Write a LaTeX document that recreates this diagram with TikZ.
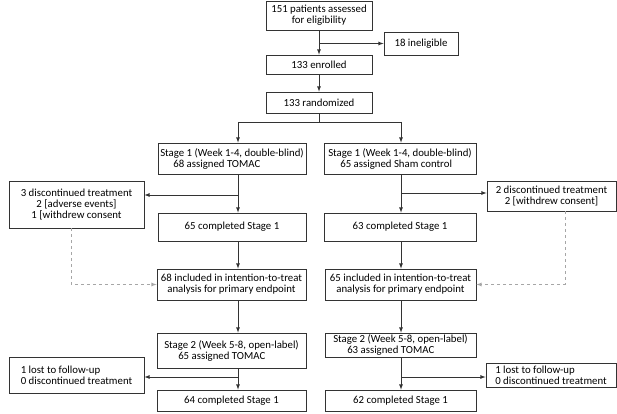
\documentclass[tikz,border=0pt]{standalone}
\usepackage{fontspec}
\setmainfont{Carlito}
\usetikzlibrary{arrows}

\begin{document}
\begin{tikzpicture}[x=1pt, y=-1pt, >=latex,
		box/.style={draw=black!80, line width=0.8pt, align=center, inner sep=1pt, font=\fontsize{10.8}{11}\selectfont},
		flow/.style={->, draw=black!80, line width=0.8pt},
		link/.style={draw=black!80, line width=0.8pt},
		skip/.style={->, draw=black!35, dashed, line width=0.8pt}]
		\useasboundingbox (0,0) rectangle (617,414);
		\node[box, minimum width=106, minimum height=29] (assess) at (319,15.5) {151 patients assessed\\for eligibility};
		\node[box, minimum width=74, minimum height=23] (inel) at (421,43.5) {18 ineligible};
		\node[box, minimum width=106, minimum height=19] (enrol) at (319,64.5) {133 enrolled};
		\node[box, minimum width=106, minimum height=21] (rand) at (319,102.5) {133 randomized};
		\node[box, align=left, minimum width=148, minimum height=31] (s1L) at (232,158.5) {Stage 1 (Week 1-4, double-blind)\\\hspace*{13pt}68 assigned TOMAC};
		\node[box, align=left, minimum width=152, minimum height=31] (s1R) at (400,158.5) {Stage 1 (Week 1-4, double-blind)\\\hspace*{12pt}65 assigned Sham control};
		\node[box, minimum width=135, minimum height=47] (discL) at (76.5,204.5) {3 discontinued treatment\\2 [adverse events]\\1 [withdrew consent};
		\node[box, minimum width=129, minimum height=30] (discR) at (551.5,196) {2 discontinued treatment\\2 [withdrew consent]};
		\node[box, minimum width=148, minimum height=28] (compL) at (232,227) {65 completed Stage 1};
		\node[box, minimum width=152, minimum height=28] (compR) at (400,227) {63 completed Stage 1};
		\node[box, minimum width=149, minimum height=31] (ittL) at (231.5,284.5) {68 included in intention-to-treat\\analysis for primary endpoint};
		\node[box, minimum width=151, minimum height=31] (ittR) at (400.5,284.5) {65 included in intention-to-treat\\analysis for primary endpoint};
		\node[box, align=left, minimum width=149, minimum height=35] (s2L) at (231.5,350.5) {Stage 2 (Week 5-8, open-label)\\\hspace*{14pt}65 assigned TOMAC};
		\node[box, align=left, minimum width=151, minimum height=24] (s2R) at (400.5,345) {Stage 2 (Week 5-8, open-label)\\\hspace*{14pt}63 assigned TOMAC};
		\node[box, align=left, minimum width=135, minimum height=36] (lostL) at (76.5,375) {1 lost to follow-up\\0 discontinued treatment};
		\node[box, align=left, minimum width=130, minimum height=24] (lostR) at (551,375) {1 lost to follow-up\\0 discontinued treatment};
		\node[box, minimum width=149, minimum height=21] (endL) at (231.5,400.5) {64 completed Stage 1};
		\node[box, minimum width=151, minimum height=21] (endR) at (400.5,400.5) {62 completed Stage 1};
		\coordinate (split) at (319,122);
		\coordinate (tL) at (238,122);
		\coordinate (tR) at (401,122);
		\coordinate (bL1) at (238,195);
		\coordinate (bR1) at (401,193);
		\coordinate (bL2) at (238,377);
		\coordinate (bR2) at (401,377);
		\draw[flow] (assess) -- (enrol);
		\draw[flow] (assess.south |- inel.west) -- (inel.west);
		\draw[flow] (enrol) -- (rand);
		\draw[link] (rand.south) -- (split);
		\draw[link] (tL) -- (tR);
		\draw[flow] (tL) -- (tL |- s1L.north);
		\draw[flow] (tR) -- (tR |- s1R.north);
		\draw[flow] (tL |- s1L.south) -- (tL |- compL.north);
		\draw[flow] (tR |- s1R.south) -- (tR |- compR.north);
		\draw[flow] (bL1) -- (bL1 -| discL.east);
		\draw[flow] (bR1) -- (bR1 -| discR.west);
		\draw[flow] (tL |- compL.south) -- (tL |- ittL.north);
		\draw[flow] (tR |- compR.south) -- (tR |- ittR.north);
		\draw[skip] ([xshift=-5.5]discL.south) |- (ittL.west);
		\draw[skip] ([xshift=13.5]discR.south) |- (ittR.east);
		\draw[flow] (tL |- ittL.south) -- (tL |- s2L.north);
		\draw[flow] (tR |- ittR.south) -- (tR |- s2R.north);
		\draw[flow] (tL |- s2L.south) -- (tL |- endL.north);
		\draw[flow] (tR |- s2R.south) -- (tR |- endR.north);
		\draw[flow] (bL2) -- (bL2 -| lostL.east);
		\draw[flow] (bR2) -- (bR2 -| lostR.west);
	\end{tikzpicture}
\end{document}
